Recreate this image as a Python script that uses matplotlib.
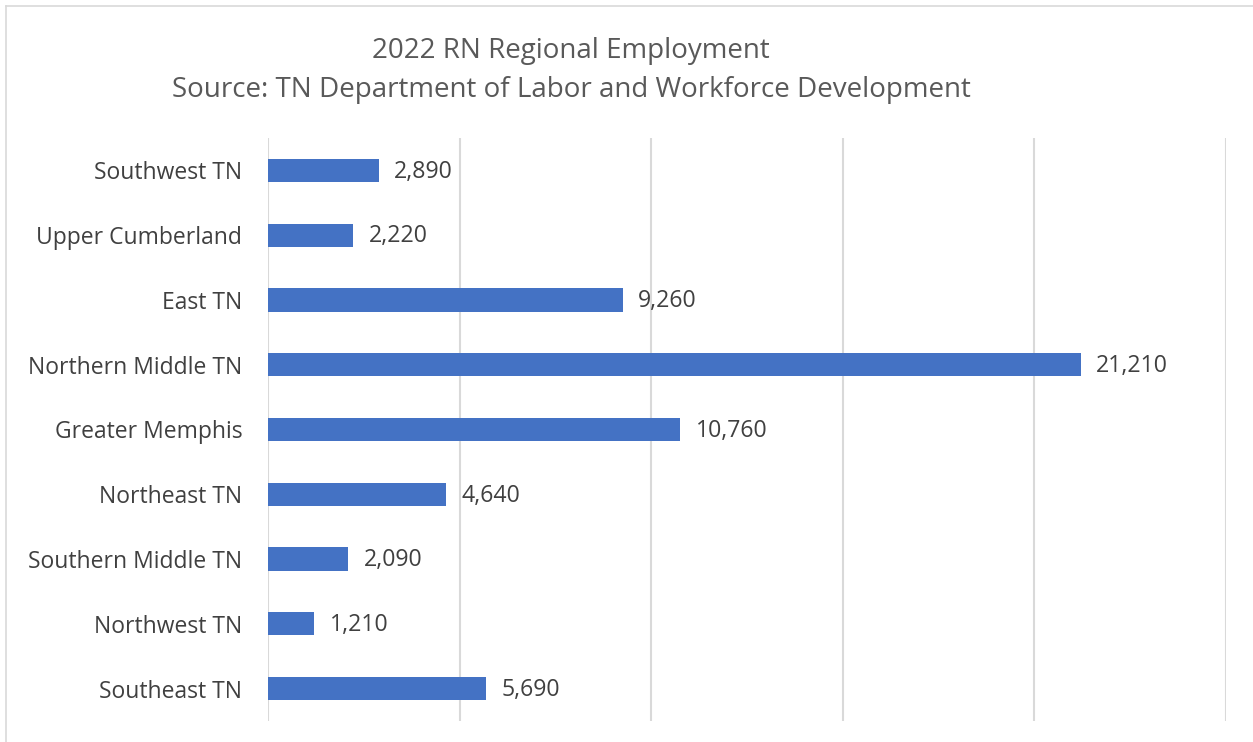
import matplotlib.pyplot as plt
from matplotlib.lines import Line2D

regions = ['Southwest TN', 'Upper Cumberland', 'East TN', 'Northern Middle TN',
           'Greater Memphis', 'Northeast TN', 'Southern Middle TN', 'Northwest TN',
           'Southeast TN']
employment = [2890, 2220, 9260, 21210, 10760, 4640, 2090, 1210, 5690]
x_ticks = [0, 5000, 10000, 15000, 20000, 25000]

plt.rcParams['font.family'] = ['Open Sans', 'DejaVu Sans']

W, H = 1253, 742
fig = plt.figure(figsize=(W / 100, H / 100), dpi=100)

# plot area in pixel coords
left, right, top, bottom = 268, 1226, 138, 721
ax = fig.add_axes([left / W, 1 - bottom / H, (right - left) / W, (bottom - top) / H])

y = list(range(len(regions)))
ax.barh(y, employment, height=0.36, color='#4472C4', zorder=3)
for yi, v in zip(y, employment):
    ax.text(v + 400, yi + 0.02, f'{v:,}', va='center', ha='left', fontsize=16.7, color='#404040')

ax.set_xlim(0, 25000)
ax.set_ylim(len(regions) - 0.5, -0.5)
ax.set_xticks(x_ticks)
ax.set_xticklabels([])
ax.set_yticks(y)
ax.set_yticklabels(regions, fontsize=16.5, color='#404040')
ax.tick_params(axis='both', length=0)
ax.tick_params(axis='y', pad=18.5)
ax.grid(axis='x', color='#d9d9d9', linewidth=1.5, zorder=0)
for s in ax.spines.values():
    s.set_visible(False)

fig.text(571 / W, 1 - 51 / H, '2022 RN Regional Employment', ha='center', va='center',
         fontsize=20, color='#595959')
fig.text(571 / W, 1 - 90 / H, 'Source: TN Department of Labor and Workforce Development',
         ha='center', va='center', fontsize=20, color='#595959')

# chart frame, top and left edges
fig.add_artist(Line2D([6 / W, 1], [1 - 6 / H, 1 - 6 / H], color='#d9d9d9', linewidth=1.2))
fig.add_artist(Line2D([6 / W, 6 / W], [0, 1 - 6 / H], color='#d9d9d9', linewidth=1.2))

fig.savefig('out.png', dpi=100)
